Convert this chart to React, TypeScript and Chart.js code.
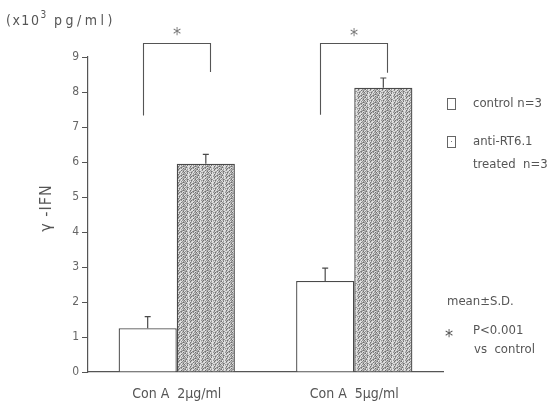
import React, { useEffect, useRef } from "react";
import { Chart, registerables } from "chart.js";

Chart.register(...registerables);

// ---- data ----
const categories = ["Con A  2\u03bcg/ml", "Con A  5\u03bcg/ml"];
const controlMean = [1.25, 2.6];
const controlSD = [0.33, 0.37];
const treatedMean = [5.95, 8.12];
const treatedSD = [0.27, 0.28];
const yTicks = [0, 1, 2, 3, 4, 5, 6, 7, 8, 9];
const bracketTop = [9.4, 9.4];
const bracketLeftEnd = [7.33, 7.35];
const bracketRightEnd = [8.57, 8.55];
const starLevel = [9.72, 9.7];
const legendLabels = ["control n=3", "anti-RT6.1", "treated  n=3"];
const noteLabels = ["mean\u00b1S.D.", "P<0.001", "vs  control"];

const FONT = "'Liberation Sans Narrow', 'DejaVu Sans Condensed', 'Roboto Condensed', sans-serif";
const TEXT = "#555";
const LINE = "#4a4a4a";

function makePattern(ctx: CanvasRenderingContext2D) {
  const c = document.createElement("canvas");
  c.width = 12;
  c.height = 8;
  const g = c.getContext("2d")!;
  const rows = [
    "213021323120",
    "331210313302",
    "302123123213",
    "132031201332",
    "231203213120",
    "313121303231",
    "321012133302",
    "102321023213",
  ];
  const cols = ["#707070", "#959595", "#bababa", "#e0e0e0"];
  rows.forEach((r, y) =>
    [...r].forEach((ch, x) => {
      g.fillStyle = cols[+ch];
      g.fillRect(x, y, 1, 1);
    })
  );
  return ctx.createPattern(c, "repeat")!;
}

const errorBars = {
  id: "errorBars",
  afterDatasetsDraw(chart: any) {
    const { ctx } = chart;
    const y = chart.scales.y;
    const sds = [controlSD, treatedSD];
    const means = [controlMean, treatedMean];
    ctx.save();
    ctx.strokeStyle = LINE;
    ctx.lineWidth = 1.2;
    [0, 1].forEach((d) => {
      const meta = chart.getDatasetMeta(d);
      meta.data.forEach((el: any, i: number) => {
        const top = y.getPixelForValue(means[d][i] + sds[d][i]);
        ctx.beginPath();
        ctx.moveTo(el.x, el.y);
        ctx.lineTo(el.x, top);
        ctx.moveTo(el.x - 3, top);
        ctx.lineTo(el.x + 3, top);
        ctx.stroke();
      });
    });
    ctx.restore();
  },
};

const overlay = {
  id: "overlay",
  afterDraw(chart: any) {
    const { ctx } = chart;
    const y = chart.scales.y;
    const m0 = chart.getDatasetMeta(0);
    const m1 = chart.getDatasetMeta(1);
    ctx.save();
    // brackets & stars
    ctx.strokeStyle = "#555";
    ctx.lineWidth = 1.1;
    categories.forEach((_, i) => {
      const lx = Math.round(m0.data[i].x - 5) + 0.5;
      const rx = Math.round(m1.data[i].x + 4) + 0.5;
      const ty = Math.round(y.getPixelForValue(bracketTop[i])) + 0.5;
      ctx.beginPath();
      ctx.moveTo(lx, y.getPixelForValue(bracketLeftEnd[i]));
      ctx.lineTo(lx, ty);
      ctx.lineTo(rx, ty);
      ctx.lineTo(rx, y.getPixelForValue(bracketRightEnd[i]));
      ctx.stroke();
      ctx.fillStyle = "#777";
      ctx.font = `18px ${FONT}`;
      ctx.textAlign = "center";
      ctx.textBaseline = "middle";
      ctx.fillText("*", (lx + rx) / 2, y.getPixelForValue(starLevel[i]) + 4);
    });

    // unit label
    ctx.fillStyle = TEXT;
    ctx.textAlign = "left";
    ctx.textBaseline = "alphabetic";
    ctx.font = `14px ${FONT}`;
    (ctx as any).letterSpacing = "1.5px";
    ctx.fillText("(x10", 6, 25);
    const w1 = ctx.measureText("(x10").width;
    ctx.font = `10px ${FONT}`;
    (ctx as any).letterSpacing = "0px";
    ctx.fillText("3", 6 + w1, 18);
    ctx.font = `14px ${FONT}`;
    (ctx as any).letterSpacing = "3.5px";
    ctx.fillText("pg/ml)", 54, 25);
    (ctx as any).letterSpacing = "0px";

    // y title
    ctx.save();
    ctx.translate(47, 208);
    ctx.rotate(-Math.PI / 2);
    ctx.font = `16px ${FONT}`;
    ctx.textAlign = "center";
    ctx.textBaseline = "middle";
    (ctx as any).letterSpacing = "1px";
    ctx.fillText("\u03b3 -IFN", 0, 0);
    (ctx as any).letterSpacing = "0px";
    ctx.restore();

    // legend
    ctx.strokeStyle = "#666";
    ctx.lineWidth = 1;
    ctx.strokeRect(447.5, 98.5, 8, 11);
    ctx.strokeRect(447.5, 136.5, 8, 11);
    ctx.fillStyle = "#777";
    ctx.fillRect(451, 141, 1, 1);
    ctx.fillStyle = TEXT;
    ctx.font = `13px ${FONT}`;
    ctx.textAlign = "left";
    ctx.textBaseline = "middle";
    ctx.fillText(legendLabels[0], 473, 104);
    ctx.fillText(legendLabels[1], 473, 142);
    ctx.fillText(legendLabels[2], 473, 165);

    // notes
    ctx.fillText(noteLabels[0], 447, 302);
    ctx.font = `18px ${FONT}`;
    ctx.fillText("*", 445, 337);
    ctx.font = `13px ${FONT}`;
    ctx.fillText(noteLabels[1], 473, 331);
    ctx.fillText(noteLabels[2], 474, 350);
    ctx.restore();
  },
};

export default function App() {
  const ref = useRef<HTMLCanvasElement>(null);
  useEffect(() => {
    const canvas = ref.current!;
    const ctx = canvas.getContext("2d")!;
    const pattern = makePattern(ctx);
    const chart = new Chart(canvas, {
      type: "bar",
      data: {
        labels: categories,
        datasets: [
          {
            label: legendLabels[0],
            data: controlMean,
            backgroundColor: "#ffffff",
            borderColor: LINE,
            borderWidth: 1.3,
            categoryPercentage: 0.655,
            barPercentage: 1,
          },
          {
            label: legendLabels[1] + " " + legendLabels[2],
            data: treatedMean,
            backgroundColor: pattern as any,
            borderColor: LINE,
            borderWidth: 1.3,
            categoryPercentage: 0.655,
            barPercentage: 1,
          },
        ],
      },
      options: {
        animation: false,
        responsive: false,
        devicePixelRatio: 1,
        layout: { padding: { left: 58, right: 107, top: 57, bottom: 0 } },
        plugins: { legend: { display: false }, tooltip: { enabled: false } },
        scales: {
          x: {
            grid: { display: false },
            border: { display: true, color: "#555", width: 1.2 },
            ticks: {
              font: { family: FONT, size: 14 },
              color: TEXT,
              padding: 6,
              maxRotation: 0,
              autoSkip: false,
            },
            afterFit: (s: any) => {
              s.height = 34;
            },
          },
          y: {
            min: 0,
            max: 9,
            afterBuildTicks: (s: any) => {
              s.ticks = yTicks.map((v) => ({ value: v }));
            },
            grid: {
              display: true,
              drawOnChartArea: false,
              drawTicks: true,
              tickLength: 6,
              color: "#555",
            },
            border: { display: true, color: "#555", width: 1.2 },
            ticks: { font: { family: FONT, size: 12 }, color: "#666", padding: 3 },
            afterFit: (s: any) => {
              s.width = 30;
            },
          },
        },
      },
      plugins: [errorBars, overlay],
    });
    return () => chart.destroy();
  }, []);
  return (
    <div style={{ position: "absolute", left: 0, top: 0, width: 550, height: 406, background: "#fff" }}>
      <canvas ref={ref} width={550} height={406} />
    </div>
  );
}
